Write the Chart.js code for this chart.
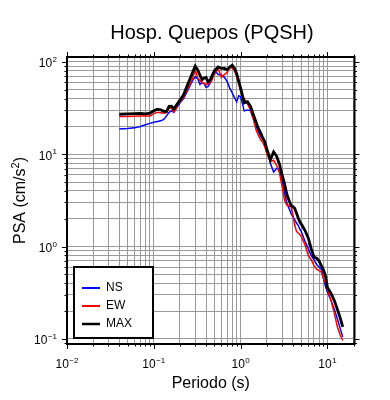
<!DOCTYPE html>
<html>
<head>
<meta charset="utf-8">
<script src="https://cdn.jsdelivr.net/npm/chart.js@4.4.0/dist/chart.umd.min.js"></script>
<style>
  body { margin: 0; background: #fff; }
  canvas { display: block; }
</style>
</head>
<body>
<canvas id="psaChart" width="390" height="400"></canvas>
<script>
// periods (s)
const periods = [0.04, 0.05, 0.06, 0.07, 0.08, 0.09, 0.1, 0.11, 0.12, 0.13, 0.14, 0.15, 0.16, 0.17, 0.18, 0.19, 0.2,
  0.22, 0.24, 0.26, 0.28, 0.3, 0.32, 0.34, 0.36, 0.38, 0.4, 0.42, 0.44, 0.46, 0.48, 0.5, 0.55, 0.6, 0.65, 0.7, 0.75,
  0.8, 0.85, 0.9, 0.95, 1.0, 1.1, 1.2, 1.3, 1.4, 1.5, 1.6, 1.7, 1.8, 1.9, 2.0, 2.2, 2.4, 2.6, 2.8, 3.0, 3.2, 3.4,
  3.6, 3.8, 4.0, 4.2, 4.4, 4.6, 4.8, 5.0, 5.5, 6.0, 6.5, 7.0, 7.5, 8.0, 8.5, 9.0, 9.5, 10, 11, 12, 13, 14, 15]

const nsValues = [18.8, 19.0, 19.3, 20.0, 20.9, 21.6, 22.2, 22.6, 23.0, 23.8, 26.0, 28.5, 29.5, 28.5, 31, 33.5, 36,
  40, 47, 55, 63, 69, 66, 57, 60, 58, 53, 54, 58, 62, 72, 82, 73, 72, 68, 61, 52,
  46, 41, 37, 43, 42, 29.5, 30.2, 29.5, 24.5, 20.5, 17.5, 15.5, 14.5, 13.2, 11.5, 8.0, 6.4, 7.0, 7.0, 5.2, 3.8, 3.0,
  2.6, 2.3, 2.1, 1.95, 1.8, 1.7, 1.55, 1.45, 1.15, 0.95, 0.80, 0.72, 0.64, 0.60, 0.57, 0.45, 0.37, 0.32, 0.26, 0.21, 0.165, 0.13, 0.105]

const ewValues = [25.6, 25.7, 25.8, 25.9, 25.9, 26.0, 27.5, 28.5, 28.2, 27.8, 28.2, 31.5, 31.5, 28.5, 31.0, 35, 37,
  41, 49, 57, 67, 82, 67, 63, 60, 58, 57, 58, 60, 62, 68, 74, 85, 68, 73, 77, 87,
  86, 80, 70, 58, 48, 40, 35, 30, 24, 18.5, 16, 14.3, 13.5, 12, 10.2, 8.3, 8.6, 7.5, 6.3, 4.5, 3.2, 2.8,
  2.75, 2.7, 2.2, 1.7, 1.46, 1.40, 1.35, 1.28, 1.05, 0.80, 0.72, 0.62, 0.57, 0.55, 0.53, 0.45, 0.40, 0.34, 0.26, 0.19, 0.135, 0.11, 0.096]

const maxValues = [27.1, 27.3, 27.5, 27.6, 27.4, 27.8, 29.5, 30.8, 30.3, 29.2, 29.0, 33.0, 33.2, 31.0, 33.5, 36.0, 38.5,
  44, 54, 65, 77, 90, 82, 72, 64, 67, 68, 61, 63, 68, 74, 80, 88, 85, 85, 82, 88,
  92, 85, 75, 62, 52, 36, 37, 33, 27, 22.5, 19, 17, 15, 13.6, 11.5, 8.7, 10.6, 9.5, 7.8, 6.0, 4.8, 3.7,
  3.2, 2.8, 2.7, 2.6, 2.3, 2.05, 1.85, 1.75, 1.5, 1.25, 0.95, 0.77, 0.75, 0.70, 0.62, 0.56, 0.48, 0.36, 0.31, 0.26, 0.21, 0.17, 0.135]

const xDecades = [0.01, 0.1, 1, 10]
const xExponents = ['\u22122', '\u22121', '0', '1']
const yDecades = [0.1, 1, 10, 100]
const yExponents = ['\u22121', '0', '1', '2']

const xMin = 0.01, xMax = 20.5
const yMin = 0.088, yMax = 113

const fontName = '"Liberation Sans", Arial, Helvetica, sans-serif'

function gridValues(decades, min, max) {
  let vals = []
  for (let d = 0.01; d < 1000; d = d * 10) {
    for (let k = 1; k <= 9; k++) {
      let v = parseFloat((d * k).toPrecision(3))
      if (v >= min && v <= max) vals.push(v)
    }
  }
  return vals
}

function isMajor(v) {
  let l = Math.log10(v)
  return Math.abs(l - Math.round(l)) < 1e-6
}

function drawPower(ctx, text, exp, x, y, align) {
  ctx.font = '12px ' + fontName
  let baseW = ctx.measureText(text).width
  ctx.font = '8px ' + fontName
  let expW = ctx.measureText(exp).width
  let total = baseW + expW + 0.5
  let left = align == 'right' ? x - total : x - total / 2
  ctx.textAlign = 'left'
  ctx.textBaseline = 'alphabetic'
  ctx.font = '12px ' + fontName
  ctx.fillText(text, left, y)
  ctx.font = '8px ' + fontName
  ctx.fillText(exp, left + baseW + 0.5, y - 5.5)
}

const frameAndText = {
  id: 'frameAndText',
  afterDraw(chart) {
    const ctx = chart.ctx
    const area = chart.chartArea
    const xs = chart.scales.x
    const ys = chart.scales.y
    ctx.save()
    ctx.strokeStyle = '#000'
    ctx.fillStyle = '#000'
    ctx.lineWidth = 1
    ctx.beginPath()
    xs.ticks.forEach(t => {
      let px = Math.round(xs.getPixelForValue(t.value)) + 0.5
      let len = isMajor(t.value) ? 5 : 2.5
      ctx.moveTo(px, area.top); ctx.lineTo(px, area.top - len)
      ctx.moveTo(px, area.bottom); ctx.lineTo(px, area.bottom + len)
    })
    ys.ticks.forEach(t => {
      let py = Math.round(ys.getPixelForValue(t.value)) + 0.5
      let len = isMajor(t.value) ? 5 : 2.5
      ctx.moveTo(area.left, py); ctx.lineTo(area.left - len, py)
      ctx.moveTo(area.right, py); ctx.lineTo(area.right + len, py)
    })
    ctx.stroke()

    ctx.lineWidth = 2
    ctx.strokeRect(area.left, area.top, area.right - area.left, area.bottom - area.top)

    // tick labels
    for (let i = 0; i < xDecades.length; i++) {
      let px = xs.getPixelForValue(xDecades[i])
      drawPower(ctx, '10', xExponents[i], px, area.bottom + 24, 'center')
    }
    for (let i = 0; i < yDecades.length; i++) {
      let py = ys.getPixelForValue(yDecades[i])
      drawPower(ctx, '10', yExponents[i], area.left - 10, py + 5.5, 'right')
    }

    // title + axis titles
    ctx.textAlign = 'center'
    ctx.textBaseline = 'alphabetic'
    ctx.font = '20px ' + fontName
    ctx.fillText('Hosp. Quepos (PQSH)', 212, 39)
    ctx.font = '16px ' + fontName
    ctx.fillText('Periodo (s)', (area.left + area.right) / 2, 388)

    ctx.save()
    ctx.translate(25, (area.top + area.bottom) / 2)
    ctx.rotate(-Math.PI / 2)
    ctx.font = '16px ' + fontName
    let t1 = 'PSA (cm/s'
    let w1 = ctx.measureText(t1).width
    let w3 = ctx.measureText(')').width
    ctx.font = '11px ' + fontName
    let w2 = ctx.measureText('2').width
    let start = -(w1 + w2 + w3) / 2
    ctx.textAlign = 'left'
    ctx.font = '16px ' + fontName
    ctx.fillText(t1, start, 0)
    ctx.fillText(')', start + w1 + w2, 0)
    ctx.font = '11px ' + fontName
    ctx.fillText('2', start + w1, -6)
    ctx.restore()

    // legend
    let lx = 74, ly = 267, lw = 79, lh = 71
    ctx.fillStyle = '#fff'
    ctx.fillRect(lx, ly, lw, lh)
    ctx.lineWidth = 2
    ctx.strokeStyle = '#000'
    ctx.strokeRect(lx, ly, lw, lh)
    let rows = [288, 306, 324]
    chart.data.datasets.forEach((ds, i) => {
      ctx.strokeStyle = ds.borderColor
      ctx.lineWidth = ds.borderWidth > 2 ? 2.5 : 2
      ctx.beginPath()
      ctx.moveTo(82, rows[i]); ctx.lineTo(100, rows[i])
      ctx.stroke()
      ctx.fillStyle = '#000'
      ctx.font = '12px ' + fontName
      ctx.textAlign = 'left'
      ctx.textBaseline = 'middle'
      ctx.fillText(ds.label, 106, rows[i])
    })
    ctx.restore()
  }
}

function toPoints(vals) {
  return periods.map((p, i) => ({ x: p, y: vals[i] }))
}

const xGrid = gridValues(xDecades, xMin, xMax)
const yGrid = gridValues(yDecades, yMin, yMax)

new Chart(document.getElementById('psaChart'), {
  type: 'line',
  data: {
    datasets: [
      { label: 'NS', data: toPoints(nsValues), borderColor: '#0000ff', borderWidth: 1.5, order: 2 },
      { label: 'EW', data: toPoints(ewValues), borderColor: '#ff0000', borderWidth: 1.5, order: 1 },
      { label: 'MAX', data: toPoints(maxValues), borderColor: '#000000', borderWidth: 2.8, order: 0 }
    ]
  },
  options: {
    responsive: false,
    animation: false,
    devicePixelRatio: 1,
    elements: { point: { radius: 0 }, line: { tension: 0, fill: false } },
    layout: { padding: { left: 0, right: 35.5, top: 57, bottom: 56 } },
    plugins: { legend: { display: false }, title: { display: false }, tooltip: { enabled: false } },
    scales: {
      x: {
        type: 'logarithmic', min: xMin, max: xMax,
        afterBuildTicks: scale => { scale.ticks = xGrid.map(v => ({ value: v })) },
        afterFit: scale => { scale.height = 0 },
        ticks: { display: false },
        border: { display: false },
        grid: { color: '#9a9a9a', lineWidth: 1, drawTicks: false }
      },
      y: {
        type: 'logarithmic', min: yMin, max: yMax,
        afterBuildTicks: scale => { scale.ticks = yGrid.map(v => ({ value: v })) },
        afterFit: scale => { scale.width = 67 },
        ticks: { display: false },
        border: { display: false },
        grid: { color: '#9a9a9a', lineWidth: 1, drawTicks: false }
      }
    }
  },
  plugins: [frameAndText]
})
</script>
</body>
</html>
